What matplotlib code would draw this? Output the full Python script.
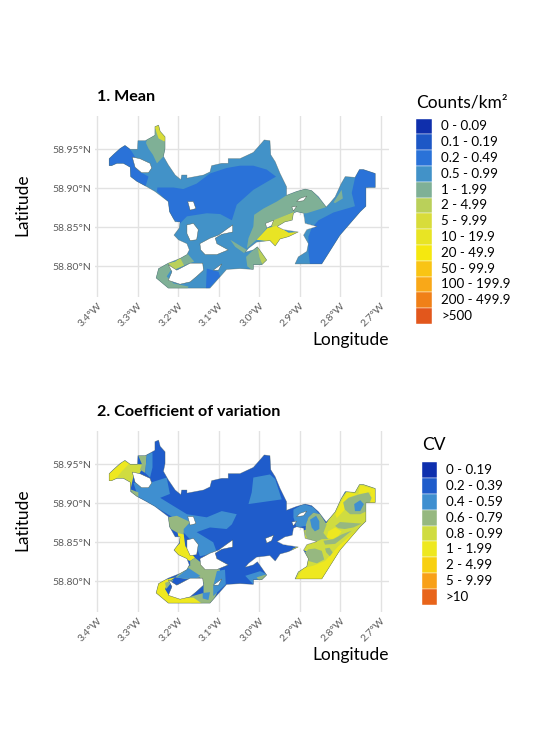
import matplotlib
matplotlib.use('Agg')
import matplotlib.pyplot as plt
from matplotlib.patches import Polygon

plt.rcParams['font.family'] = ['Lato', 'DejaVu Sans']

# Legend classes
mean_labels = ['0 - 0.09', '0.1 - 0.19', '0.2 - 0.49', '0.5 - 0.99', '1 - 1.99', '2 - 4.99', '5 - 9.99',
               '10 - 19.9', '20 - 49.9', '50 - 99.9', '100 - 199.9', '200 - 499.9', '>500']
mean_colors = ['#0f2fac', '#1d57c6', '#2a72d8', '#4292c8', '#7fb096', '#bad05a', '#d8dc3a',
               '#e8e424', '#f5e80f', '#f9c414', '#f9a818', '#f08018', '#e2571c']
cv_labels = ['0 - 0.19', '0.2 - 0.39', '0.4 - 0.59', '0.6 - 0.79', '0.8 - 0.99', '1 - 1.99', '2 - 4.99', '5 - 9.99', '>10']
cv_colors = ['#0e2fae', '#1f5ccb', '#3f8fd0', '#96b880', '#d0dc40', '#eee820', '#f8d010', '#f8a018', '#e8641a']

# Sea area outline as (lon, lat)
coast = [(-3.371, 58.938), (-3.359, 58.944), (-3.344, 58.951), (-3.332, 58.955), (-3.319, 58.950), (-3.301, 58.950),
         (-3.300, 58.961), (-3.282, 58.961), (-3.268, 58.965), (-3.258, 58.968), (-3.258, 58.979), (-3.249, 58.981),
         (-3.245, 58.973), (-3.233, 58.966), (-3.233, 58.951), (-3.237, 58.941), (-3.225, 58.930), (-3.208, 58.917),
         (-3.194, 58.911), (-3.192, 58.917), (-3.179, 58.917), (-3.179, 58.913), (-3.138, 58.917), (-3.122, 58.921),
         (-3.118, 58.929), (-3.093, 58.932), (-3.077, 58.932), (-3.077, 58.938), (-3.048, 58.938), (-3.015, 58.946),
         (-2.998, 58.956), (-2.988, 58.962), (-2.974, 58.961), (-2.972, 58.943), (-2.961, 58.934), (-2.949, 58.919),
         (-2.933, 58.902), (-2.933, 58.891), (-2.908, 58.896), (-2.887, 58.899), (-2.871, 58.897), (-2.854, 58.889),
         (-2.835, 58.876), (-2.826, 58.881), (-2.813, 58.889), (-2.798, 58.906), (-2.788, 58.915), (-2.764, 58.914),
         (-2.753, 58.924), (-2.743, 58.924), (-2.714, 58.919), (-2.714, 58.901), (-2.737, 58.901), (-2.737, 58.877),
         (-2.751, 58.870), (-2.801, 58.840), (-2.846, 58.803), (-2.912, 58.803), (-2.904, 58.812), (-2.883, 58.819),
         (-2.879, 58.829), (-2.891, 58.840), (-2.883, 58.847), (-2.858, 58.851), (-2.887, 58.855), (-2.891, 58.868),
         (-2.908, 58.870), (-2.916, 58.868), (-2.919, 58.859), (-2.937, 58.857), (-2.956, 58.851), (-2.941, 58.847),
         (-2.904, 58.844), (-2.928, 58.838), (-2.949, 58.835), (-2.961, 58.826), (-2.974, 58.833), (-3.007, 58.831),
         (-3.027, 58.823), (-3.035, 58.818), (-3.015, 58.821), (-3.005, 58.825), (-2.994, 58.817), (-2.982, 58.808),
         (-2.994, 58.802), (-3.015, 58.802), (-3.015, 58.796), (-3.048, 58.797), (-3.081, 58.796), (-3.122, 58.772),
         (-3.225, 58.772), (-3.255, 58.785), (-3.249, 58.797), (-3.225, 58.804), (-3.196, 58.810), (-3.179, 58.815),
         (-3.173, 58.821), (-3.179, 58.829), (-3.200, 58.834), (-3.211, 58.840), (-3.198, 58.849), (-3.196, 58.857),
         (-3.208, 58.857), (-3.222, 58.870), (-3.225, 58.883), (-3.258, 58.896), (-3.278, 58.902), (-3.303, 58.909),
         (-3.318, 58.915), (-3.319, 58.927), (-3.336, 58.932), (-3.352, 58.932), (-3.365, 58.929), (-3.371, 58.929)]

# Islands and land inside the outline
islands = [
    [(-3.314, 58.940), (-3.295, 58.938), (-3.270, 58.932), (-3.266, 58.926), (-3.274, 58.920), (-3.291, 58.920), (-3.307, 58.927)],
    [(-3.177, 58.883), (-3.163, 58.883), (-3.157, 58.874), (-3.171, 58.872)],
    [(-3.179, 58.853), (-3.163, 58.855), (-3.151, 58.847), (-3.155, 58.834), (-3.171, 58.833), (-3.179, 58.842)],
    [(-3.147, 58.829), (-3.122, 58.836), (-3.101, 58.840), (-3.077, 58.849), (-3.066, 58.853), (-3.066, 58.844), (-3.093, 58.841),
     (-3.109, 58.836), (-3.105, 58.829), (-3.077, 58.821), (-3.105, 58.815), (-3.134, 58.815), (-3.145, 58.821)],
    [(-3.225, 58.802), (-3.204, 58.795), (-3.171, 58.804), (-3.140, 58.804), (-3.138, 58.795), (-3.155, 58.787), (-3.171, 58.780),
     (-3.196, 58.777), (-3.225, 58.782), (-3.216, 58.793)],
    [(-3.114, 58.795), (-3.093, 58.803), (-3.101, 58.795)],
    [(-2.985, 58.855), (-2.965, 58.859), (-2.970, 58.852), (-2.982, 58.849)],
    [(-2.900, 58.887), (-2.883, 58.890), (-2.891, 58.884), (-2.908, 58.883)],
    [(-2.920, 58.876), (-2.908, 58.877), (-2.916, 58.871)],
]
inlet = [(-2.956, 58.851), (-2.919, 58.859), (-2.891, 58.868), (-2.887, 58.855), (-2.858, 58.851), (-2.883, 58.847), (-2.891, 58.840),
         (-2.904, 58.844), (-2.941, 58.847)]

# Mean surface: (legend class, outline)
mean_base = 3
mean_areas = [
    (2, [(-3.377, 58.941), (-3.344, 58.953), (-3.329, 58.956), (-3.315, 58.947), (-3.307, 58.940), (-3.307, 58.927), (-3.291, 58.920),
         (-3.274, 58.915), (-3.282, 58.901), (-3.311, 58.906), (-3.323, 58.919), (-3.328, 58.930), (-3.377, 58.927)]),
    (2, [(-3.252, 58.901), (-3.212, 58.901), (-3.188, 58.899), (-3.155, 58.906), (-3.122, 58.919), (-3.081, 58.926), (-3.048, 58.929),
         (-3.015, 58.929), (-2.982, 58.924), (-2.959, 58.915), (-3.015, 58.898), (-3.056, 58.879), (-3.068, 58.859), (-3.097, 58.867),
         (-3.130, 58.868), (-3.179, 58.864), (-3.196, 58.855), (-3.225, 58.864), (-3.229, 58.884), (-3.253, 58.896)]),
    (2, [(-2.710, 58.924), (-2.753, 58.926), (-2.764, 58.913), (-2.772, 58.894), (-2.764, 58.877), (-2.817, 58.869), (-2.854, 58.859),
         (-2.871, 58.849), (-2.879, 58.838), (-2.879, 58.819), (-2.875, 58.802), (-2.842, 58.802), (-2.731, 58.874), (-2.731, 58.901),
         (-2.710, 58.901)]),
    (2, [(-3.130, 58.797), (-3.101, 58.793), (-3.097, 58.787), (-3.126, 58.771), (-3.132, 58.771)]),
    (4, [(-3.278, 58.962), (-3.258, 58.975), (-3.233, 58.964), (-3.233, 58.943), (-3.253, 58.932), (-3.263, 58.943), (-3.274, 58.951), (-3.280, 58.958)]),
    (6, [(-3.262, 58.983), (-3.247, 58.983), (-3.229, 58.964), (-3.235, 58.960), (-3.249, 58.964)]),
    (4, [(-2.933, 58.891), (-2.908, 58.896), (-2.887, 58.900), (-2.871, 58.898), (-2.834, 58.876), (-2.883, 58.868), (-2.891, 58.868),
         (-2.916, 58.870), (-2.961, 58.859), (-2.982, 58.849), (-3.007, 58.834), (-3.031, 58.823), (-3.027, 58.836), (-3.015, 58.851),
         (-3.013, 58.866), (-2.990, 58.874), (-2.957, 58.883)]),
    (4, [(-2.817, 58.882), (-2.797, 58.898), (-2.794, 58.887), (-2.813, 58.881)]),
    (5, [(-2.982, 58.854), (-2.965, 58.859), (-2.914, 58.870), (-2.919, 58.857), (-2.949, 58.851), (-2.965, 58.850)]),
    (7, [(-3.007, 58.834), (-2.980, 58.849), (-2.956, 58.852), (-2.928, 58.843), (-2.900, 58.844), (-2.928, 58.836), (-2.949, 58.833),
         (-2.961, 58.824), (-2.974, 58.832)]),
    (4, [(-3.072, 58.834), (-3.056, 58.829), (-3.031, 58.821), (-3.038, 58.817), (-3.060, 58.825)]),
    (4, [(-3.033, 58.812), (-3.015, 58.821), (-3.005, 58.826), (-2.998, 58.812), (-2.994, 58.800), (-3.015, 58.794), (-3.030, 58.800)]),
    (5, [(-3.005, 58.826), (-2.992, 58.817), (-2.978, 58.808), (-2.992, 58.800), (-3.000, 58.812)]),
    (4, [(-3.262, 58.782), (-3.249, 58.800), (-3.225, 58.805), (-3.216, 58.797), (-3.229, 58.787), (-3.212, 58.778), (-3.175, 58.774),
         (-3.179, 58.770), (-3.225, 58.770)]),
    (4, [(-3.204, 58.810), (-3.179, 58.817), (-3.161, 58.806), (-3.192, 58.800)]),
    (5, [(-3.225, 58.804), (-3.208, 58.806), (-3.196, 58.811), (-3.186, 58.801), (-3.212, 58.795)]),
]

# CV surface
cv_base = 1
cv_areas = [
    # west end
    (4, [(-3.377, 58.937), (-3.332, 58.956), (-3.299, 58.950), (-3.286, 58.950), (-3.295, 58.939), (-3.311, 58.935), (-3.319, 58.916),
         (-3.307, 58.907), (-3.319, 58.914), (-3.323, 58.926), (-3.336, 58.931), (-3.377, 58.926)]),
    (5, [(-3.373, 58.926), (-3.373, 58.937), (-3.352, 58.946), (-3.336, 58.954), (-3.321, 58.951), (-3.340, 58.941), (-3.352, 58.933)]),
    (3, [(-3.299, 58.961), (-3.278, 58.963), (-3.282, 58.939), (-3.295, 58.943), (-3.290, 58.950)]),
    (2, [(-3.278, 58.963), (-3.264, 58.965), (-3.264, 58.946), (-3.270, 58.933), (-3.282, 58.939)]),
    # middle band
    (2, [(-3.266, 58.927), (-3.229, 58.933), (-3.221, 58.912), (-3.245, 58.907), (-3.220, 58.899), (-3.179, 58.886),
         (-3.130, 58.882), (-3.093, 58.890), (-3.056, 58.886), (-3.068, 58.873), (-3.081, 58.867), (-3.122, 58.869), (-3.155, 58.863),
         (-3.114, 58.850), (-3.105, 58.837), (-3.147, 58.832), (-3.155, 58.845), (-3.179, 58.858), (-3.196, 58.867), (-3.204, 58.879),
         (-3.262, 58.897), (-3.299, 58.907), (-3.311, 58.926), (-3.270, 58.931)]),
    (3, [(-3.319, 58.918), (-3.299, 58.914), (-3.299, 58.907), (-3.258, 58.894), (-3.225, 58.882), (-3.204, 58.884), (-3.171, 58.876),
         (-3.187, 58.867), (-3.187, 58.858), (-3.202, 58.862), (-3.225, 58.869), (-3.233, 58.882), (-3.262, 58.892), (-3.307, 58.905)]),
    (5, [(-3.202, 58.862), (-3.187, 58.860), (-3.183, 58.845), (-3.159, 58.830), (-3.171, 58.826), (-3.200, 58.832), (-3.212, 58.841), (-3.196, 58.849)]),
    (3, [(-3.159, 58.830), (-3.122, 58.815), (-3.122, 58.800), (-3.171, 58.820), (-3.171, 58.826)]),
    # south-west
    (3, [(-3.155, 58.820), (-3.130, 58.820), (-3.097, 58.815), (-3.105, 58.785), (-3.118, 58.771), (-3.163, 58.768), (-3.179, 58.779),
         (-3.138, 58.785), (-3.138, 58.798), (-3.147, 58.805), (-3.179, 58.803), (-3.208, 58.805), (-3.175, 58.820)]),
    (2, [(-3.204, 58.805), (-3.175, 58.817), (-3.146, 58.807), (-3.163, 58.802)]),
    (2, [(-3.105, 58.813), (-3.085, 58.815), (-3.083, 58.796), (-3.114, 58.781), (-3.114, 58.794)]),
    (2, [(-3.140, 58.785), (-3.122, 58.786), (-3.126, 58.776), (-3.140, 58.778)]),
    (5, [(-3.258, 58.785), (-3.249, 58.800), (-3.208, 58.805), (-3.225, 58.799), (-3.233, 58.790), (-3.225, 58.783), (-3.196, 58.779),
         (-3.163, 58.779), (-3.138, 58.770), (-3.225, 58.770)]),
    (3, [(-3.233, 58.798), (-3.212, 58.802), (-3.230, 58.790)]),
    # north-east and east
    (2, [(-2.916, 58.892), (-2.891, 58.899), (-2.867, 58.895), (-2.852, 58.886), (-2.867, 58.888), (-2.879, 58.882), (-2.885, 58.871),
         (-2.908, 58.869), (-2.916, 58.882)]),
    (4, [(-2.891, 58.865), (-2.834, 58.875), (-2.797, 58.907), (-2.784, 58.916), (-2.751, 58.926), (-2.710, 58.921), (-2.710, 58.899),
         (-2.731, 58.899), (-2.731, 58.875), (-2.846, 58.798), (-2.916, 58.798), (-2.895, 58.824), (-2.879, 58.837), (-2.895, 58.841)]),
    (5, [(-2.912, 58.801), (-2.891, 58.817), (-2.867, 58.820), (-2.838, 58.826), (-2.805, 58.845), (-2.772, 58.860), (-2.733, 58.877),
         (-2.731, 58.873), (-2.850, 58.798)]),
    (5, [(-2.830, 58.864), (-2.813, 58.869), (-2.797, 58.864), (-2.805, 58.858), (-2.821, 58.854), (-2.834, 58.856)]),
    (5, [(-2.751, 58.923), (-2.714, 58.918), (-2.714, 58.899), (-2.731, 58.899), (-2.725, 58.914), (-2.756, 58.912)]),
    (5, [(-2.813, 58.886), (-2.797, 58.903), (-2.784, 58.914), (-2.756, 58.912), (-2.780, 58.907), (-2.793, 58.901), (-2.789, 58.892), (-2.809, 58.881)]),
    (3, [(-2.793, 58.901), (-2.780, 58.907), (-2.756, 58.911), (-2.731, 58.914), (-2.723, 58.907), (-2.735, 58.890), (-2.751, 58.886),
         (-2.776, 58.886), (-2.789, 58.892)]),
    (2, [(-2.766, 58.899), (-2.751, 58.904), (-2.742, 58.899), (-2.751, 58.890), (-2.764, 58.890)]),
    (3, [(-2.813, 58.871), (-2.801, 58.876), (-2.776, 58.875), (-2.747, 58.874), (-2.768, 58.869), (-2.789, 58.867), (-2.805, 58.868)]),
    (3, [(-2.842, 58.852), (-2.817, 58.854), (-2.797, 58.860), (-2.772, 58.865), (-2.793, 58.856), (-2.813, 58.848), (-2.838, 58.847)]),
    (3, [(-2.887, 58.860), (-2.885, 58.873), (-2.879, 58.882), (-2.867, 58.888), (-2.850, 58.886), (-2.834, 58.873), (-2.842, 58.862),
         (-2.830, 58.854), (-2.846, 58.854), (-2.858, 58.851), (-2.879, 58.852)]),
    (2, [(-2.875, 58.879), (-2.860, 58.884), (-2.852, 58.877), (-2.852, 58.867), (-2.863, 58.864), (-2.871, 58.869)]),
    (3, [(-2.891, 58.835), (-2.879, 58.841), (-2.863, 58.842), (-2.846, 58.839), (-2.840, 58.828), (-2.858, 58.823), (-2.879, 58.826)]),
    (3, [(-2.838, 58.842), (-2.827, 58.843), (-2.819, 58.837), (-2.826, 58.832), (-2.835, 58.837)]),
    # centre
    (2, [(-3.035, 58.807), (-2.998, 58.813), (-2.982, 58.809), (-3.015, 58.796)]),
    (3, [(-3.007, 58.805), (-2.982, 58.809), (-2.982, 58.803), (-2.998, 58.799)]),
    (5, [(-2.920, 58.841), (-2.904, 58.845), (-2.900, 58.839)]),
    (2, [(-3.015, 58.933), (-2.974, 58.937), (-2.961, 58.931), (-2.945, 58.905), (-3.027, 58.899), (-3.019, 58.914)]),
]

lon_ticks = [-3.4, -3.3, -3.2, -3.1, -3.0, -2.9, -2.8, -2.7]
lat_ticks = [58.80, 58.85, 58.90, 58.95]

W, H = 550, 756


def px_axes(left, top, right, bottom):
    return fig.add_axes([left / W, 1 - bottom / H, (right - left) / W, (bottom - top) / H])


def draw_map(ax, colors, base, areas):
    sea = Polygon(coast, closed=True, fc=colors[base], ec='none', zorder=2)
    ax.add_patch(sea)
    for cls, pts in areas:
        p = Polygon(pts, closed=True, fc=colors[cls], ec='none', zorder=3)
        ax.add_patch(p)
        p.set_clip_path(sea)
    ax.add_patch(Polygon(inlet, closed=True, fc='white', ec='none', zorder=4))
    ax.add_patch(Polygon(coast, closed=True, fc='none', ec='#4a5a50', lw=0.4, alpha=0.55, zorder=5))
    for pts in islands:
        ax.add_patch(Polygon(pts, closed=True, fc='white', ec='#4a5a50', lw=0.3, zorder=5))
    ax.set_xlim(-3.406, -2.680)
    ax.set_ylim(58.7606, 58.9927)
    ax.set_xticks(lon_ticks)
    ax.set_xticklabels(['%.1f°W' % abs(v) for v in lon_ticks], rotation=45, ha='right', rotation_mode='anchor',
                       fontsize=7.5, color='#5c5c5c')
    ax.set_yticks(lat_ticks)
    ax.set_yticklabels(['%.2f°N' % v for v in lat_ticks], fontsize=7.5, color='#5c5c5c')
    ax.tick_params(length=0, pad=3)
    ax.grid(True, color='#e2e2e2', lw=1)
    ax.set_axisbelow(True)
    for s in ax.spines.values():
        s.set_visible(False)


def draw_legend(ax, colors, labels):
    ypos = range(len(colors))
    ax.barh(ypos, [1] * len(colors), height=1, left=0, color=colors, edgecolor='#ffffff', linewidth=0.3)
    ax.set_xlim(0, 1)
    ax.set_ylim(len(colors) - 0.5, -0.5)
    ax.axis('off')
    for i, lab in zip(ypos, labels):
        ax.text(1.58, i, lab, fontsize=9.6, color='black', va='center', ha='left')


fig = plt.figure(figsize=(W / 100, H / 100), dpi=100)

ax1 = px_axes(95, 116, 389, 297)
draw_map(ax1, mean_colors, mean_base, mean_areas)
ax2 = px_axes(95, 431, 389, 612)
draw_map(ax2, cv_colors, cv_base, cv_areas)

fig.text(97 / W, 1 - 97 / H, '1. Mean', fontsize=11.6, fontweight='bold', va='center', ha='left')
fig.text(97 / W, 1 - 412 / H, '2. Coefficient of variation', fontsize=11.6, fontweight='bold', va='center', ha='left')
for yl, yx in [(205, 340), (520, 655)]:
    fig.text(22 / W, 1 - yl / H, 'Latitude', fontsize=12.5, rotation=90, va='center', ha='center')
    fig.text(389 / W, 1 - yx / H, 'Longitude', fontsize=12.5, va='center', ha='right')

leg1 = px_axes(416, 118.5, 432, 324)
draw_legend(leg1, mean_colors, mean_labels)
leg2 = px_axes(422, 462, 437, 605)
draw_legend(leg2, cv_colors, cv_labels)
fig.text(416 / W, 1 - 103 / H, 'Counts/km²', fontsize=12.5, va='center', ha='left')
fig.text(422 / W, 1 - 445 / H, 'CV', fontsize=12.5, va='center', ha='left')

fig.savefig('out.png', dpi=100)
